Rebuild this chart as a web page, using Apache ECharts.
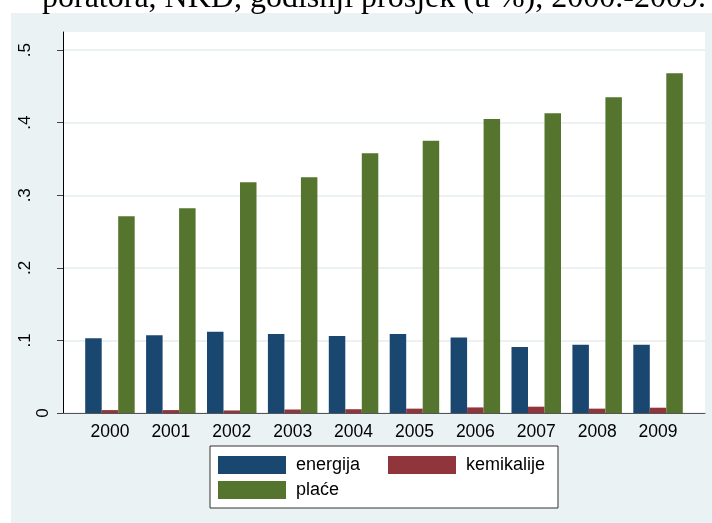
<!DOCTYPE html>
<html>
<head>
<meta charset="utf-8">
<script src="https://cdn.jsdelivr.net/npm/echarts@6/dist/echarts.min.js"></script>
<style>
  body { margin: 0; background: #fff; }
  #panel { position: absolute; left: 11px; top: 13px; width: 701px; height: 510px; background: #eaf2f3; }
  #chart { position: absolute; left: 0; top: 0; width: 712px; height: 523px; }
</style>
</head>
<body>
<div id="panel"></div>
<div id="chart"></div>
<script>
// podaci
const years = ["2000", "2001", "2002", "2003", "2004", "2005", "2006", "2007", "2008", "2009"];
const energija = [0.103, 0.107, 0.112, 0.109, 0.106, 0.109, 0.104, 0.091, 0.094, 0.094];
const kemikalije = [0.004, 0.004, 0.0035, 0.0048, 0.0052, 0.006, 0.0077, 0.0087, 0.006, 0.0073];
const place = [0.271, 0.282, 0.318, 0.325, 0.358, 0.375, 0.405, 0.413, 0.435, 0.468];
const yTicks = [0, 0.1, 0.2, 0.3, 0.4, 0.5];
const yMax = 0.525;

const sans = "Liberation Sans";
const chart = echarts.init(document.getElementById("chart"));

function fmt(v) {
  if (v === 0) return "0";
  return String(+v.toFixed(1)).replace(/^0/, "");
}

const option = {
  animation: false,
  backgroundColor: "transparent",
  graphic: [
    {
      type: "text",
      x: 42,
      y: 15,
      style: {
        text: "poratora, NKD, godišnji prosjek (u %), 2000.-2009.",
        font: "32px 'Liberation Serif'",
        fill: "#000",
        verticalAlign: "bottom",
      },
    },
  ],
  grid: [
    { left: 63, right: 7, top: 32, bottom: 110, show: true, backgroundColor: "#fff", borderWidth: 0 },
    { left: 79.5, right: 23.5, top: 32, bottom: 110 },
  ],
  legend: {
    data: ["energija", "kemikalije", "plaće"],
    left: 210,
    top: 446,
    width: 335,
    padding: [10, 7, 9, 8],
    itemWidth: 68,
    itemHeight: 18,
    itemGap: 7,
    icon: "rect",
    selectedMode: false,
    backgroundColor: "#fff",
    borderColor: "#333",
    borderWidth: 1,
    borderRadius: 0,
    textStyle: { fontFamily: sans, fontSize: 18, color: "#000", width: 85, padding: [0, 0, 0, 5], lineHeight: 18 },
  },
  xAxis: [
    {
      type: "value",
      gridIndex: 0,
      min: 0,
      max: 1,
      axisLine: { show: true, lineStyle: { color: "#555", width: 1 } },
      axisTick: { show: false },
      axisLabel: { show: false },
      splitLine: { show: false },
    },
    {
      type: "category",
      gridIndex: 1,
      data: years,
      axisLine: { show: false },
      axisTick: { show: false },
      axisLabel: { fontFamily: sans, fontSize: 17.5, color: "#000", margin: 10 },
    },
  ],
  yAxis: [
    {
      type: "value",
      gridIndex: 0,
      position: "left",
      min: 0,
      max: yMax,
      axisLine: { show: true, lineStyle: { color: "#000", width: 1 } },
      axisTick: { show: true, length: 6, customValues: yTicks, lineStyle: { color: "#444" } },
      axisLabel: {
        customValues: yTicks.slice(1),
        rotate: 90,
        margin: 29,
        fontFamily: sans,
        fontSize: 17,
        color: "#000",
        formatter: fmt,
      },
      splitLine: { show: true, lineStyle: { color: "#e6eef1", width: 1.5 } },
    },
    {
      type: "value",
      gridIndex: 1,
      min: 0,
      max: yMax,
      show: false,
    },
    {
      type: "value",
      gridIndex: 0,
      position: "left",
      min: 0,
      max: yMax,
      axisLine: { show: false },
      axisTick: { show: false },
      splitLine: { show: false },
      axisLabel: {
        customValues: [0],
        rotate: 90,
        margin: 11,
        fontFamily: sans,
        fontSize: 17,
        color: "#000",
        formatter: fmt,
      },
    },
  ],
  series: [
    {
      name: "energija",
      type: "bar",
      xAxisIndex: 1,
      yAxisIndex: 1,
      barWidth: 16.5,
      barGap: "0%",
      itemStyle: { color: "#1a476f" },
      data: energija,
    },
    {
      name: "kemikalije",
      type: "bar",
      xAxisIndex: 1,
      yAxisIndex: 1,
      barWidth: 16.5,
      barGap: "0%",
      itemStyle: { color: "#90353b" },
      data: kemikalije,
    },
    {
      name: "plaće",
      type: "bar",
      xAxisIndex: 1,
      yAxisIndex: 1,
      barWidth: 16.5,
      barGap: "0%",
      itemStyle: { color: "#55752f" },
      data: place,
    },
  ],
};

chart.setOption(option);
</script>
</body>
</html>
